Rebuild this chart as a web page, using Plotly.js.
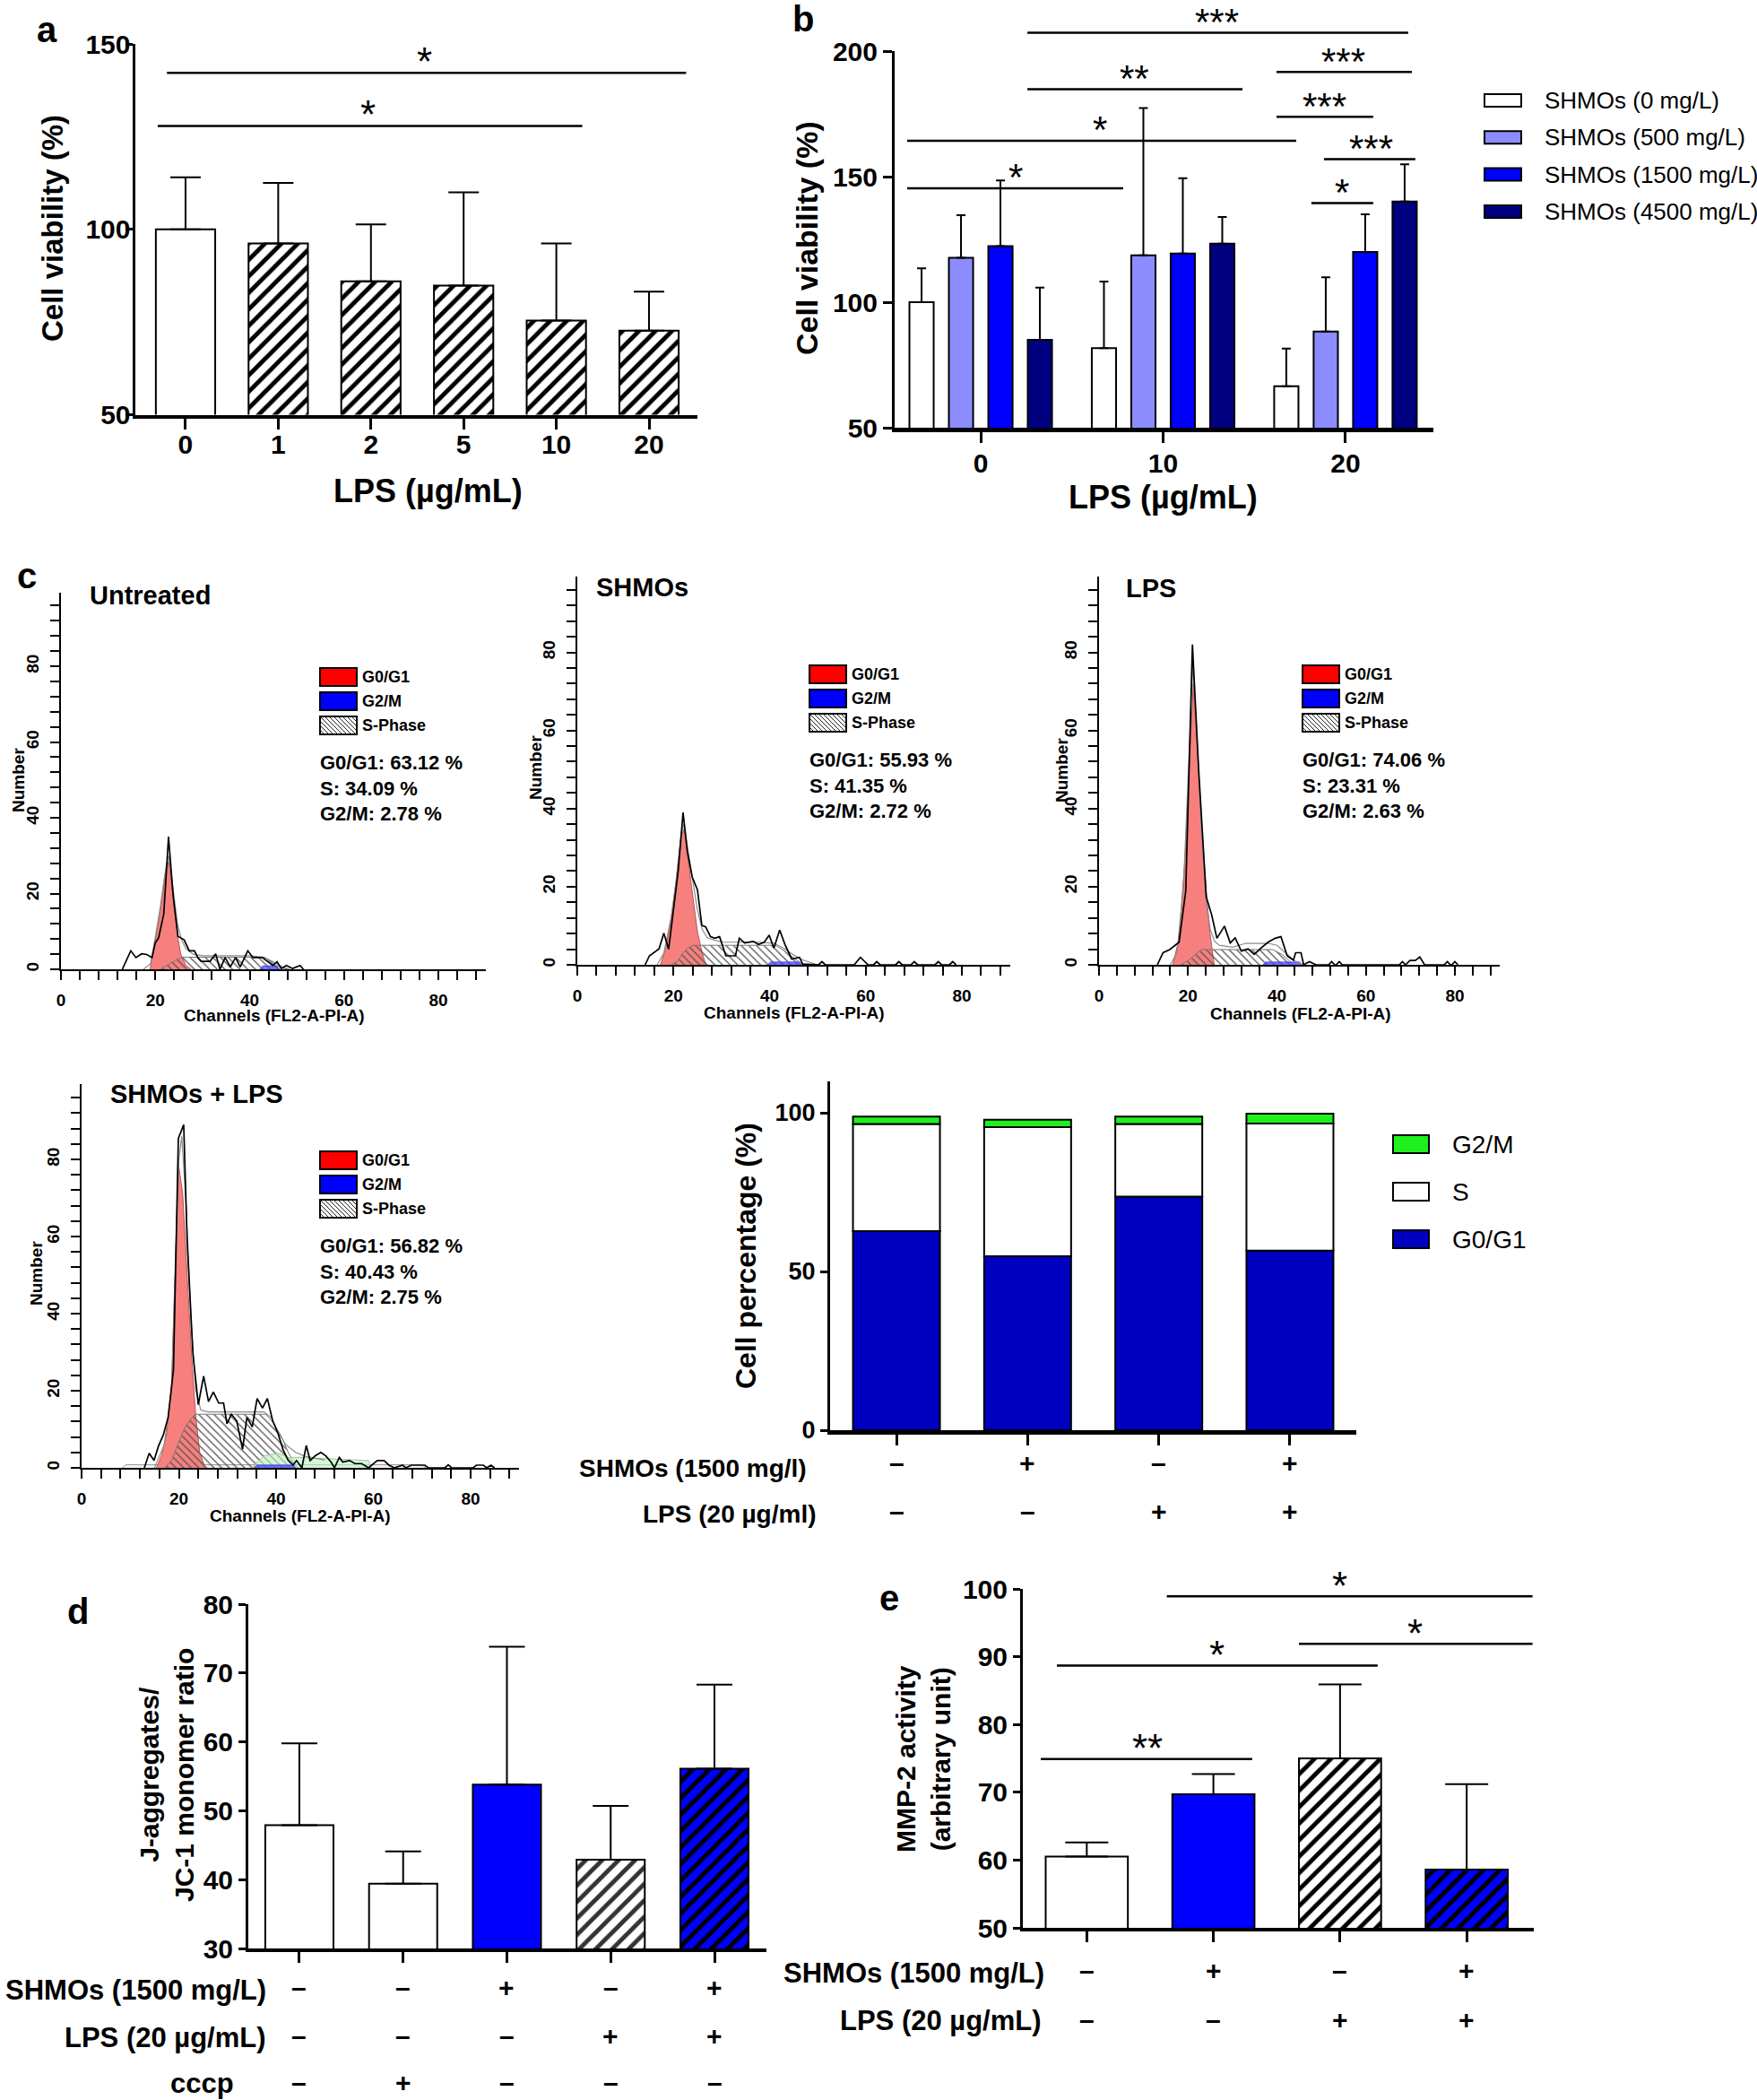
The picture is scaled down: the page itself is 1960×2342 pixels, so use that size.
<!DOCTYPE html>
<html><head><meta charset="utf-8">
<script src="https://cdn.plot.ly/plotly-3.0.1.min.js"></script>
<style>html,body{margin:0;padding:0;background:#fff;}#chart{width:1960px;height:2342px;}</style>
</head><body><div id="chart"></div>
<script>
// ================= DATA =================
// Panel a
const aCats = ['0','1','2','5','10','20'];
const aMean = [100, 96.2, 86.0, 84.8, 75.4, 72.7];
const aErrTop = [114.0, 112.5, 101.3, 110.0, 96.2, 83.2];
const aHatch = ['', '/', '/', '/', '/', '/'];
const aSig = [[-0.2, 5.4, 142.2, '*', 2.58], [-0.3, 4.28, 127.9, '*', 1.97]];

// Panel b
const bCats = ['0','10','20'];
const bSeries = ['SHMOs (0 mg/L)','SHMOs (500 mg/L)','SHMOs (1500 mg/L)','SHMOs (4500 mg/L)'];
const bColors = ['#FFFFFF','#8C8CFF','#0000FF','#000080'];
const b0Mean = [100, 81.7, 66.5],      b0Top = [113.5, 108.2, 81.5];
const b500Mean = [117.7, 118.7, 88.3], b500Top = [134.6, 177.3, 109.9];
const b1500Mean = [122.3, 119.4, 120.0], b1500Top = [148.5, 149.4, 135.0];
const b4500Mean = [85.0, 123.3, 140.1], b4500Top = [105.8, 133.9, 154.9];
const bSig = [
  [0.256, 2.344, 207.3, '***', 1.297],
  [1.622, 2.364, 191.7, '***', 1.990],
  [0.256, 1.435, 184.8, '**', 0.845],
  [1.622, 2.152, 173.8, '***', 1.887],
  [-0.403, 1.730, 164.3, '*', 0.654],
  [1.882, 2.383, 157.0, '***', 2.138],
  [-0.403, 0.781, 145.4, '*', 0.192],
  [1.813, 2.152, 139.5, '*', 1.980]];

// Panel c histograms (channel, number)
const untreatedRawCh = [13,14.8,15.9,17.1,18.2,19.3,20,20.7,21.8,22.8,23.8,24.8,26.1,27.2,28.3,29,29.7,31.6,32.8,33.7,34.8,35.9,37,38,39.6,40.7,42.7,43.5,44.9,45.8,46.7,47.8,49.1,50.7,51.4];
const untreatedRawN  = [0,4.9,3.1,4.1,3.9,3.1,7,8.3,14.7,35,19.2,8.7,7.8,4.9,4.9,3.1,2.1,2.1,4.1,0,3.1,0.6,3.1,0.6,4.9,3.1,3.1,2.4,1,2,0.2,1,0.2,1,0];
const untreatedG1Ch = [18.9,20,21.1,22.2,22.8,23.6,24.7,25.4,26.5,27.6];
const untreatedG1N  = [0,8,15.5,26,28.5,21,9,4,1,0];
const untreatedSCh = [21,23.2,24.3,25.8,43.1,44.2,45.6,47.4,48.5];
const untreatedSN  = [0,1.5,2.4,3.2,3.2,2.4,1.0,0.2,0];
const untreatedG2Ch = [42.2,42.8,45.6,46.4];
const untreatedG2N  = [0,0.9,0.9,0];
const untreatedFitCh = [17.5,19,20,21,22.2,22.8,23.6,24.7,25.5,26.5,28,30,40,43,45,47,48.5];
const untreatedFitN  = [0,1.5,8.5,16,26.5,30,23,12,8,5.5,4,3.6,3.6,3.2,2,0.6,0];

const shmosRawCh = [14.1,15,17,18,19,20,21,22,22.9,23.9,25,25.9,26.7,27.7,28.6,29.6,30.9,32.9,33.7,34.8,35.7,36.6,37.7,38.9,39.9,40.9,42.1,43.2,44.6,46.2,46.9,50.2,50.9,51.6,57.6,58.9,60.5,61.6,62.3,63,66.2,66.9,67.6,69.4,70.1,70.8,74.4,75.1,75.8,77.4,78.1,78.8];
const shmosRawN  = [0,2.3,4.1,8.1,4,13.4,24.1,39,29,22.5,19.2,10.1,9.7,7.2,6.8,7.2,2.3,2.3,6.8,5.6,5.8,6,5.2,5.8,7.6,4.3,8.9,5.2,1.5,1.9,0.2,0,0.8,0,0,1.9,0,0,0.8,0,0,0.8,0,0,0.8,0,0,0.8,0,0,0.8,0];
const shmosG1Ch = [17.3,18.4,19.5,20.5,21.6,22.2,23,24.1,25,25.9,26.7];
const shmosG1N  = [0,4.3,11.7,20.7,33,34.7,27.3,17.5,8.4,3.5,0];
const shmosSCh = [19.5,20.9,22,23,24.1,41.2,42.7,44.4,45.5,46.6,47];
const shmosSN  = [0,1,3.1,4.3,5,5,3.9,2.3,1.2,0.2,0];
const shmosG2Ch = [39.6,40.2,46.2,46.7];
const shmosG2N  = [0,0.7,0.7,0];
const shmosFitCh = [16.6,18,19.5,20.5,21.6,22.2,23,24.1,25,26,27,28,30,38,41,43,45,47,49,50];
const shmosFitN  = [0,3,12,21,33.5,36,29.5,21,14,9,7,6.5,5.8,5.8,5.5,4.2,2.5,1.2,0.5,0];

const lpsRawCh = [13.1,14.4,15.9,18,19.5,21,22.4,24.1,25.3,26.5,28.2,29.5,30.6,32,33.5,34.9,36.4,38,39.6,40.9,42.3,43.7,44.2,45.4,46,47.3,48.8,51.6,52.3,53,53.3,54,54.7,67.5,68.2,68.9,69.9,71.1,72.1,73.2,77.6,78.3,79,79.3,80,80.7];
const lpsRawN  = [0,3.1,3.9,5.8,19,82,50,17.4,12.9,6.8,9.9,5.6,6.9,3.5,4.1,2.7,4.3,5.8,6.8,7.2,2.3,1.2,3.1,3.1,0,0.8,0,0,0.8,0,0,0.8,0,0,0.8,0,1.1,1.1,2,0,0,0.8,0,0,0.8,0];
const lpsG1Ch = [16.6,18,19.3,20.3,21.2,22.1,23.1,24.1,24.9,25.9];
const lpsG1N  = [0,6.8,27,51.7,72,55.5,35,19,8.4,0];
const lpsSCh = [18.5,20.5,22.1,23.1,39,41.1,42.7,43.7];
const lpsSN  = [0,1.5,3.1,3.9,3.9,2.7,1.1,0];
const lpsG2Ch = [36.8,37.5,45.1,45.6];
const lpsG2N  = [0,0.7,0.7,0];
const lpsFitCh = [16,17.5,19,20.3,21.1,22,23,24,25,26,27,30,33,38,40,42,44,46];
const lpsFitN  = [0,3,20,55,77,58,35,17,9,6,5,4.5,5.5,5.5,5,3,1,0];

const comboRawCh = [12.9,13.9,14.9,15.8,16.8,17.8,18.9,19.9,20.5,21,21.7,22.9,24,25.1,26.1,27.1,28.2,29.2,29.9,30.8,31.9,33.1,34,35.1,36.1,37.2,38.2,39.3,40.4,41.4,42.5,43.5,44.2,45.3,46.2,47,48,49.2,50.2,51.3,52,53,53.7,55.1,56.2,57.6,59,60.8,62.2,63.2,64.3,66,66.7,67.8,70.6,71.3,74.7,75.4,76.1,80.5,81.2,82.6,83.3,84.2,84.9];
const comboRawN  = [0,3.8,1.9,5.6,8.5,13.1,25.5,85.4,87.4,89,59.3,29.6,16.4,23.8,17.2,19.7,16.8,16.8,11.4,13.9,12.2,4.8,13.1,10.6,18,15.5,18,12.2,8.9,4.8,1.9,0.7,1.9,0,5.8,1.9,3.1,4,3.1,1.5,0,2.7,1.5,1.9,1.1,1.1,0,1.9,1.9,0.7,0,0.7,0,0.7,0.7,0,0,0.8,0,0,0.7,0.7,0,0.7,0];
const comboG1Ch = [15.4,16.4,17.5,18.5,19.2,19.9,20.8,21.7,22.6,23.5,24.3,25.4];
const comboG1N  = [0,3.1,8.9,21.3,50.2,79,71,50.2,29.6,13,4,0];
const comboSCh = [17.1,18.5,19.9,21.3,22.7,23.5,37.9,39.6,41.1,42.5,43.9,44.6];
const comboSN  = [0,1.9,6.4,10.6,13.1,13.9,13.9,11.4,8.1,4,0.7,0];
const comboG2Ch = [35.4,36.1,43.5,44];
const comboG2N  = [0,0.7,0.7,0];
const comboDebCh = [35,37.5,40.4,42.5,44.6,59,59.7];
const comboDebN  = [0,3.1,3.8,2.7,2.7,1.9,0];
const comboBaseCh = [8.3,9.2,70,70.8];
const comboBaseN  = [0,0.8,0.8,0];
const comboFitCh = [15,17,18.5,19.5,20,20.6,21.5,22.5,23.5,24.5,26,30,35,37.5,39,40.5,42,44,46,48,50];
const comboFitN  = [0,6,20,60,80,86,68,38,20,15,14.5,14.5,14.5,14.5,13,9,6,4,3,2.5,2];

const flowTitles = ['Untreated','SHMOs','LPS','SHMOs + LPS'];
const flowStats = [
  ['G0/G1: 63.12 %','S: 34.09 %','G2/M: 2.78 %'],
  ['G0/G1: 55.93 %','S: 41.35 %','G2/M: 2.72 %'],
  ['G0/G1: 74.06 %','S: 23.31 %','G2/M: 2.63 %'],
  ['G0/G1: 56.82 %','S: 40.43 %','G2/M: 2.75 %']];
const flowLegendNames = ['G0/G1','G2/M','S-Phase'];

// Panel c stacked bars
const cycleCats = ['Untreated','SHMOs','LPS','SHMOs + LPS'];
const cycleG0G1 = [62.7, 54.8, 73.6, 56.6];
const cycleS    = [33.8, 40.7, 22.9, 40.0];
const cycleG2M  = [2.3, 2.3, 2.3, 3.1];
const cycleShmos = ['–','+','–','+'];
const cycleLps   = ['–','–','+','+'];

// Panel d
const dCats = ['Control','CCCP','SHMOs','LPS','SHMOs + LPS'];
const dMean = [47.9, 39.4, 53.8, 42.9, 56.1];
const dErrTop = [59.8, 44.1, 73.8, 50.7, 68.3];
const dShmos = ['–','–','+','–','+'];
const dLps   = ['–','–','–','+','+'];
const dCccp  = ['–','+','–','–','–'];

// Panel e
const eCats = ['Control','SHMOs','LPS','SHMOs + LPS'];
const eMean = [60.5, 69.7, 75.0, 58.6];
const eErrTop = [62.6, 72.7, 85.9, 71.2];
const eShmos = ['–','+','–','+'];
const eLps   = ['–','–','+','+'];
const eSig = [
  [-0.363, 1.306, 74.9, '**', 0.476],
  [-0.236, 2.297, 88.7, '*', 1.027],
  [1.676, 3.52, 91.9, '*', 2.594],
  [0.632, 3.52, 98.9, '*', 2.0]];

// styles (not data)
const dFill = ['white', 'white', '#0000FF', 'white', '#0000FF'];
const dHatch = ['', '', '', '/', '/'];
const dHatchColor = ['black', 'black', 'black', '#333333', 'black'];
const eFill = ['white', '#0000FF', 'white', '#0000FF'];
const eHatch = ['', '', '/', '/'];

// ================= LAYOUT HELPERS =================
const W = 1960, H = 2342;
const FF = 'Liberation Sans, Arial, Helvetica, sans-serif';
const dom = (a, b) => [a / W, b / W];
const domY = (top, bot) => [1 - bot / H, 1 - top / H];
const shapes = [], annotations = [], traces = [];
const layout = {
  width: W, height: H, margin: {l: 0, r: 0, t: 0, b: 0},
  paper_bgcolor: 'white', plot_bgcolor: 'rgba(0,0,0,0)', showlegend: false,
  barmode: 'group', bargap: 0.135, bargroupgap: 0.385,
  font: {family: FF, color: 'black'}, shapes, annotations
};
function txt(text, x, y, size, weight, xanchor, angle, extra) {
  return Object.assign({
    text, x: x / W, y: 1 - y / H, xref: 'paper', yref: 'paper', showarrow: false,
    xanchor: xanchor || 'center', yanchor: 'middle', textangle: angle || 0, align: 'left',
    font: {family: FF, size, color: 'black', weight: weight || 'normal'}
  }, extra || {});
}
function sign(text, xa, cat, y) {
  return {text, xref: xa, yref: 'paper', x: cat, y: 1 - y / H, showarrow: false, xanchor: 'center', yanchor: 'middle',
    font: {family: FF, size: 30, weight: 'bold', color: 'black'}};
}
function sub(n) { return n === 1 ? '' : String(n); }

function barAxes(n, xL, xR, yT, yB, xrange, yrange, yticks, cats, o) {
  const s = sub(n);
  layout['xaxis' + s] = {domain: dom(xL, xR), anchor: 'y' + s, type: 'category', range: xrange,
    categoryorder: 'array', categoryarray: cats,
    showgrid: false, zeroline: false, showline: true, linecolor: 'black', linewidth: o.xlw || 4,
    ticks: 'outside', ticklen: o.xtl || 12, tickwidth: 3, tickcolor: 'black',
    showticklabels: !!o.xlabels, ticklabelstandoff: o.xso || 0,
    tickfont: {family: FF, size: 30, weight: 'bold', color: 'black'}};
  layout['yaxis' + s] = {domain: domY(yT, yB), anchor: 'x' + s, range: yrange, tickmode: 'array', tickvals: yticks,
    showgrid: false, zeroline: false, showline: true, linecolor: 'black', linewidth: 3,
    ticks: 'outside', ticklen: o.ytl || 8, tickwidth: 3, tickcolor: 'black', ticklabelstandoff: o.yso || 0,
    tickfont: {family: FF, size: o.yfs || 30, weight: 'bold', color: 'black'}};
}
function flowAxes(n, xL, x80, y0, perUnit) {
  const s = sub(n);
  const xR = xL + (x80 - xL) / 80 * 90;
  const yT = y0 - 99.5 * perUnit;
  layout['xaxis' + s] = {domain: dom(xL, xR), anchor: 'y' + s, range: [0, 90],
    showgrid: false, zeroline: false, showline: true, linecolor: 'black', linewidth: 2,
    ticks: 'outside', ticklen: 10, tickwidth: 2, tickcolor: 'black', tick0: 0, dtick: 20,
    ticklabelstandoff: 6, tickfont: {family: FF, size: 19, weight: 'bold', color: 'black'},
    minor: {tick0: 0, dtick: 4, ticks: 'outside', ticklen: 10, tickwidth: 2, tickcolor: 'black', showgrid: false}};
  layout['yaxis' + s] = {domain: domY(yT, y0), anchor: 'x' + s, range: [0, 99.5],
    showgrid: false, zeroline: false, showline: true, linecolor: 'black', linewidth: 2,
    ticks: 'outside', ticklen: 10, tickwidth: 2, tickcolor: 'black', tick0: 0, dtick: 20, tickangle: -90,
    ticklabelstandoff: 5, tickfont: {family: FF, size: 19, weight: 'bold', color: 'black'},
    minor: {tick0: 0, dtick: 4, ticks: 'outside', ticklen: 10, tickwidth: 2, tickcolor: 'black', showgrid: false}};
}
function errY(mean, top, w) {
  return {type: 'data', symmetric: false, array: top.map((t, i) => t - mean[i]),
    arrayminus: mean.map(() => 0), color: 'black', thickness: 2, width: w};
}
function sigBars(list, n, range, shift, size) {
  const s = sub(n);
  list.forEach(([from, to, lvl, label, lx]) => {
    const f = (lvl - range[0]) / (range[1] - range[0]);
    shapes.push({type: 'line', xref: 'x' + s, yref: 'y' + s + ' domain', x0: from, x1: to, y0: f, y1: f,
      line: {color: 'black', width: 2.5}});
    annotations.push({text: label, xref: 'x' + s, yref: 'y' + s + ' domain', x: lx, y: f, yshift: shift,
      showarrow: false, xanchor: 'center', yanchor: 'middle',
      font: {family: FF, size: size, color: 'black'}});
  });
}
function rectPx(x0, y0, x1, y1, fill, lw) {
  shapes.push({type: 'rect', xref: 'paper', yref: 'paper', x0: x0 / W, x1: x1 / W, y0: 1 - y1 / H, y1: 1 - y0 / H,
    fillcolor: fill, line: {color: 'black', width: lw}, layer: 'above'});
}
function hatchPx(x0, y0, w, h, step) {
  let d = '';
  for (let k = -h; k <= w; k += step) {
    const t0 = Math.max(0, -k), t1 = Math.min(h, w - k);
    if (t1 <= t0) continue;
    d += 'M' + ((x0 + k + t0) / W).toFixed(5) + ',' + (1 - (y0 + t0) / H).toFixed(5) +
         'L' + ((x0 + k + t1) / W).toFixed(5) + ',' + (1 - (y0 + t1) / H).toFixed(5);
  }
  shapes.push({type: 'path', xref: 'paper', yref: 'paper', path: d, line: {color: '#222', width: 1}, layer: 'above'});
}
// single-bar traces so every bar keeps its own solid colour + hatch colour
function singleBars(cats, mean, top, xa, ya, width, fills, hatches, hatchCols, capW) {
  cats.forEach((c, i) => {
    const m = {color: fills[i], line: {color: 'black', width: 2}};
    if (hatches[i]) m.pattern = {shape: hatches[i], fgcolor: hatchCols[i], bgcolor: fills[i], size: 13, solidity: 0.38, fillmode: 'replace'};
    traces.push({type: 'bar', x: [c], y: [mean[i]], xaxis: xa, yaxis: ya, width: width, offsetgroup: xa,
      marker: m, error_y: errY([mean[i]], [top[i]], capW), hoverinfo: 'skip'});
  });
}

// ================= PANEL a =================
barAxes(1, 150.5, 778, 49, 462.5, [-0.546, 5.522], [50, 150], [50, 100, 150], aCats, {xlabels: true, xso: -9, xlw: 4, yso: -12, ytl: 8});
singleBars(aCats, aMean, aErrTop, 'x', 'y', 0.64, aCats.map(() => 'white'), aHatch, aCats.map(() => 'black'), 17);
sigBars(aSig, 1, [50, 150], 13, 44);
annotations.push(txt('a', 52, 33, 40, 'bold'));
annotations.push(txt('LPS (µg/mL)', 477, 548, 36, 'bold'));
annotations.push(txt('Cell viability (%)', 59, 255, 33, 'bold', 'center', -90));

// ================= PANEL b =================
barAxes(2, 998, 1599, 57, 477, [-0.472, 2.482], [50, 200], [50, 100, 150, 200], bCats, {xlabels: true, xso: -3, xlw: 5, ytl: 10});
const bMeans = [b0Mean, b500Mean, b1500Mean, b4500Mean];
const bTops = [b0Top, b500Top, b1500Top, b4500Top];
bSeries.forEach((name, i) => {
  traces.push({type: 'bar', name, x: bCats, y: bMeans[i], xaxis: 'x2', yaxis: 'y2',
    marker: {color: bColors[i], line: {color: 'black', width: 2}},
    error_y: errY(bMeans[i], bTops[i], 5), hoverinfo: 'skip'});
  const cy = 112 + i * 41.3;
  rectPx(1656, cy - 7, 1697, cy + 7, bColors[i], 2);
  annotations.push(txt(name, 1721, cy, 26, 'normal', 'left'));
});
sigBars(bSig, 2, [50, 200], 12, 42);
annotations.push(txt('b', 896, 21, 40, 'bold'));
annotations.push(txt('LPS (µg/mL)', 1297, 555, 36, 'bold'));
annotations.push(txt('Cell viability (%)', 900, 266, 34, 'bold', 'center', -90));

// ================= PANEL c histograms =================
const flowData = [
  {n: 3, xL: 68, x80: 489, y0: 1081, pu: 4.225, raw: [untreatedRawCh, untreatedRawN], g1: [untreatedG1Ch, untreatedG1N], s: [untreatedSCh, untreatedSN], g2: [untreatedG2Ch, untreatedG2N], fit: [untreatedFitCh, untreatedFitN],
   title: [98, 664], num: [21, 870], chan: [306, 1132], leg: [357, 745]},
  {n: 4, xL: 644, x80: 1073, y0: 1076, pu: 4.356, raw: [shmosRawCh, shmosRawN], g1: [shmosG1Ch, shmosG1N], s: [shmosSCh, shmosSN], g2: [shmosG2Ch, shmosG2N], fit: [shmosFitCh, shmosFitN],
   title: [663, 655], num: [597, 856], chan: [886, 1129], leg: [903, 742]},
  {n: 5, xL: 1226, x80: 1623, y0: 1076, pu: 4.356, raw: [lpsRawCh, lpsRawN], g1: [lpsG1Ch, lpsG1N], s: [lpsSCh, lpsSN], g2: [lpsG2Ch, lpsG2N], fit: [lpsFitCh, lpsFitN],
   title: [1254, 656], num: [1184, 859], chan: [1451, 1130], leg: [1453, 742]},
  {n: 6, xL: 91, x80: 525, y0: 1637, pu: 4.3, raw: [comboRawCh, comboRawN], g1: [comboG1Ch, comboG1N], s: [comboSCh, comboSN], g2: [comboG2Ch, comboG2N], fit: [comboFitCh, comboFitN],
   deb: [comboDebCh, comboDebN], base: [comboBaseCh, comboBaseN],
   title: [121, 1220], num: [40, 1420], chan: [335, 1690], leg: [357, 1284]}
];
flowData.forEach((f, idx) => {
  flowAxes(f.n, f.xL, f.x80, f.y0, f.pu);
  const xa = 'x' + f.n, ya = 'y' + f.n;
  const common = {type: 'scatter', mode: 'lines', xaxis: xa, yaxis: ya, hoverinfo: 'skip'};
  if (f.base) traces.push(Object.assign({}, common, {x: f.base[0], y: f.base[1], fill: 'tozeroy', fillcolor: 'rgba(230,230,230,0.5)', line: {color: '#999', width: 1}}));
  traces.push(Object.assign({}, common, {x: f.g1[0], y: f.g1[1], fill: 'tozeroy', fillcolor: '#F7807E', line: {color: '#B05858', width: 1}}));
  traces.push(Object.assign({}, common, {x: f.s[0], y: f.s[1], fill: 'tozeroy', fillcolor: 'rgba(0,0,0,0)',
    fillpattern: {shape: '\\', fgcolor: '#555', bgcolor: 'rgba(0,0,0,0)', size: 6, solidity: 0.22}, line: {color: '#777', width: 1}}));
  if (f.deb) traces.push(Object.assign({}, common, {x: f.deb[0], y: f.deb[1], fill: 'tozeroy', fillcolor: 'rgba(190,240,190,0.6)', line: {color: '#9c9', width: 1}}));
  traces.push(Object.assign({}, common, {x: f.g2[0], y: f.g2[1], fill: 'tozeroy', fillcolor: 'rgba(70,70,255,0.75)', line: {color: '#4040ff', width: 1}}));
  traces.push(Object.assign({}, common, {x: f.fit[0], y: f.fit[1], line: {color: '#8a8a8a', width: 1.2}}));
  traces.push(Object.assign({}, common, {x: f.raw[0], y: f.raw[1], line: {color: 'black', width: 1.7}}));
  annotations.push(txt(flowTitles[idx], f.title[0], f.title[1], 29, 'bold', 'left'));
  annotations.push(txt('Number', f.num[0], f.num[1], 19, 'bold', 'center', -90));
  annotations.push(txt('Channels (FL2-A-PI-A)', f.chan[0], f.chan[1], 19, 'bold'));
  const [lx, ly] = f.leg;
  const legCols = ['#FF0000', '#0000FF', 'white'];
  flowLegendNames.forEach((nm, i) => {
    const top = ly + i * 27;
    rectPx(lx, top, lx + 41, top + 20, legCols[i], 2);
    if (i === 2) hatchPx(lx, top, 41, 20, 5);
    annotations.push(txt(nm, lx + 45, top + 10, 18, 'bold', 'left'));
  });
  annotations.push(txt(flowStats[idx].join('<br>'), lx - 2, ly + 134, 22, 'bold', 'left'));
});
annotations.push(txt('c', 30, 642, 40, 'bold'));

// ================= PANEL c stacked bars =================
barAxes(7, 926, 1513, 1205.6, 1595, [-0.506, 3.506], [0, 110], [0, 50, 100], cycleCats, {xlabels: false, xlw: 5, yfs: 27, ytl: 8});
const cycleSBase = cycleG0G1.slice();
const cycleG2Base = cycleG0G1.map((v, i) => v + cycleS[i]);
traces.push({type: 'bar', x: cycleCats, y: cycleG0G1, xaxis: 'x7', yaxis: 'y7', offsetgroup: 'cyc', width: 0.663,
  marker: {color: '#0000C0', line: {color: 'black', width: 2}}, hoverinfo: 'skip'});
traces.push({type: 'bar', x: cycleCats, y: cycleS, base: cycleSBase, xaxis: 'x7', yaxis: 'y7', offsetgroup: 'cyc', width: 0.663,
  marker: {color: 'white', line: {color: 'black', width: 2}}, hoverinfo: 'skip'});
traces.push({type: 'bar', x: cycleCats, y: cycleG2M, base: cycleG2Base, xaxis: 'x7', yaxis: 'y7', offsetgroup: 'cyc', width: 0.663,
  marker: {color: '#1EF01E', line: {color: 'black', width: 2}}, hoverinfo: 'skip'});
[['G2/M', '#1EF01E'], ['S', 'white'], ['G0/G1', '#0000C0']].forEach(([nm, col], i) => {
  const cy = 1276 + i * 53;
  rectPx(1554, cy - 10, 1594, cy + 10, col, 2);
  annotations.push(txt(nm, 1618, cy, 28, 'normal', 'left'));
});
annotations.push(txt('Cell percentage (%)', 832, 1401, 32, 'bold', 'center', -90));
annotations.push(txt('SHMOs (1500 mg/l)', 902, 1637, 28, 'bold', 'right'));
annotations.push(txt('LPS (20 µg/ml)', 913, 1689, 28, 'bold', 'right'));
cycleCats.forEach((c, i) => {
  annotations.push(sign(cycleShmos[i], 'x7', c, 1631));
  annotations.push(sign(cycleLps[i], 'x7', c, 1685));
});

// ================= PANEL d =================
barAxes(8, 277, 855, 1789, 2173, [-0.492, 4.501], [30, 80], [30, 40, 50, 60, 70, 80], dCats, {xlabels: false, xlw: 4, ytl: 8});
singleBars(dCats, dMean, dErrTop, 'x8', 'y8', 0.657, dFill, dHatch, dHatchColor, 20);
annotations.push(txt('d', 87, 1797, 40, 'bold'));
annotations.push(txt('J-aggregates/<br>JC-1 monomer ratio', 186, 1980, 30, 'bold', 'center', -90, {align: 'center'}));
annotations.push(txt('SHMOs (1500 mg/L)', 299, 2219, 31, 'bold', 'right'));
annotations.push(txt('LPS (20 µg/mL)', 299, 2272, 31, 'bold', 'right'));
annotations.push(txt('cccp', 263, 2323, 31, 'bold', 'right'));
dCats.forEach((c, i) => {
  annotations.push(sign(dShmos[i], 'x8', c, 2216));
  annotations.push(sign(dLps[i], 'x8', c, 2270));
  annotations.push(sign(dCccp[i], 'x8', c, 2322));
});

// ================= PANEL e =================
barAxes(9, 1141, 1711, 1772, 2150, [-0.505, 3.53], [50, 100], [50, 60, 70, 80, 90, 100], eCats, {xlabels: false, xlw: 4, ytl: 8});
singleBars(eCats, eMean, eErrTop, 'x9', 'y9', 0.649, eFill, eHatch, eCats.map(() => 'black'), 24);
sigBars(eSig, 9, [50, 100], 12, 44);
annotations.push(txt('e', 992, 1782, 40, 'bold'));
annotations.push(txt('MMP-2 activity<br>(arbitrary unit)', 1030, 1962, 30, 'bold', 'center', -90, {align: 'center'}));
annotations.push(txt('SHMOs (1500 mg/L)', 1167, 2200, 31, 'bold', 'right'));
annotations.push(txt('LPS (20 µg/mL)', 1164, 2253, 31, 'bold', 'right'));
eCats.forEach((c, i) => {
  annotations.push(sign(eShmos[i], 'x9', c, 2197));
  annotations.push(sign(eLps[i], 'x9', c, 2252));
});

Plotly.newPlot('chart', traces, layout, {staticPlot: true, displayModeBar: false});
</script>
</body></html>
